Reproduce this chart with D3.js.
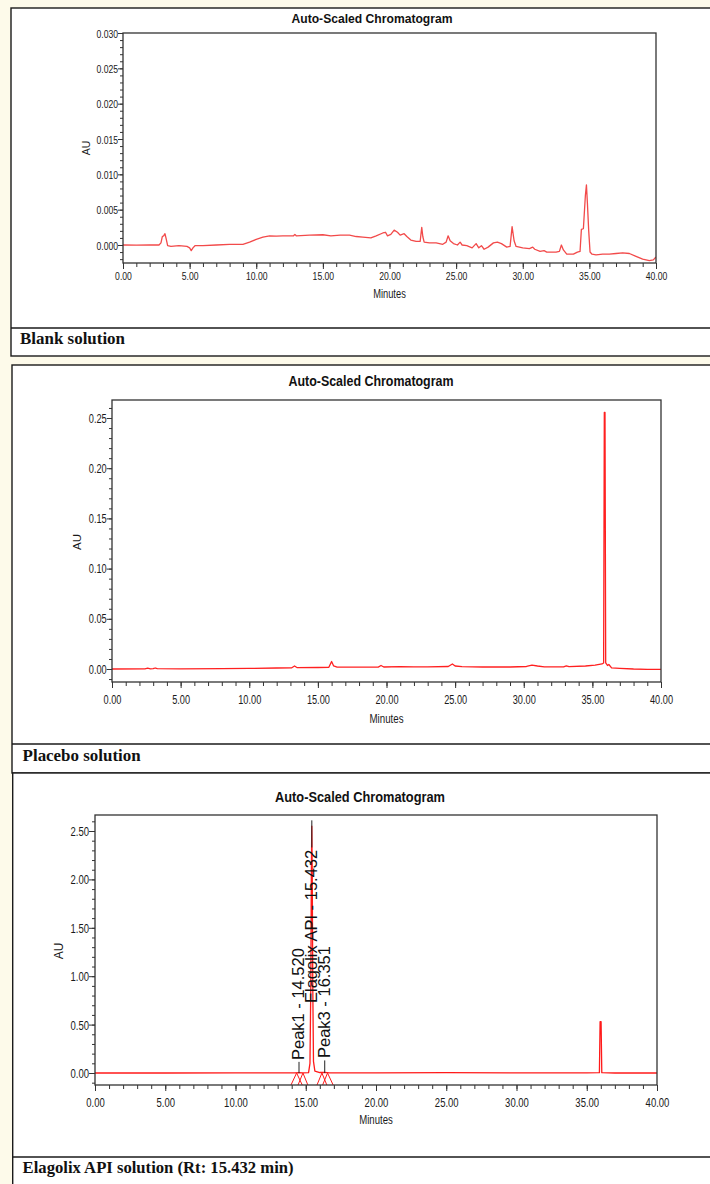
<!DOCTYPE html>
<html><head><meta charset="utf-8">
<script src="https://cdn.jsdelivr.net/npm/d3@7"></script>
<style>html,body{margin:0;padding:0;background:#fdfaea;} svg{display:block}</style>
</head><body>
<svg id="chart" width="710" height="1184"></svg>
<script>
// ---------------- data ----------------
const chartTitle = "Auto-Scaled Chromatogram";
const xAxisTitle = "Minutes";
const yAxisTitle = "AU";
const captions = ["Blank solution", "Placebo solution", "Elagolix API solution (Rt: 15.432 min)"];

const xTickValues = [0, 5, 10, 15, 20, 25, 30, 35, 40];
const xTickLabels = ["0.00", "5.00", "10.00", "15.00", "20.00", "25.00", "30.00", "35.00", "40.00"];

const blankYTickValues = [0, 0.005, 0.010, 0.015, 0.020, 0.025, 0.030];
const blankYTickLabels = ["0.000", "0.005", "0.010", "0.015", "0.020", "0.025", "0.030"];
const placeboYTickValues = [0, 0.05, 0.10, 0.15, 0.20, 0.25];
const placeboYTickLabels = ["0.00", "0.05", "0.10", "0.15", "0.20", "0.25"];
const apiYTickValues = [0, 0.5, 1.0, 1.5, 2.0, 2.5];
const apiYTickLabels = ["0.00", "0.50", "1.00", "1.50", "2.00", "2.50"];

// [minutes, AU]
const blankTrace = [[0,0],[1,-0.00003],[2,0],[2.7,0],[2.85,0.0003],[2.95,0.0012],[3.05,0.0013],[3.15,0.0016],[3.25,0.0008],[3.35,-0.0001],[3.6,-0.0002],[4.2,-0.0001],[4.8,-0.0002],[5.0,-0.0004],[5.12,-0.0008],[5.25,-0.0004],[5.4,-0.0001],[6,-0.0001],[7,0],[8,0.0001],[9,0.0001],[9.5,0.0004],[10,0.0008],[10.5,0.0011],[11,0.0013],[11.5,0.00125],[12,0.0013],[12.8,0.0013],[12.9,0.0015],[13,0.0013],[14,0.0014],[15,0.00145],[15.6,0.0013],[16.3,0.0014],[17,0.0014],[17.5,0.0012],[18,0.0011],[18.6,0.0010],[19,0.0013],[19.5,0.0017],[19.7,0.0018],[19.85,0.0013],[20.1,0.0015],[20.35,0.0021],[20.6,0.0018],[20.8,0.0014],[21.1,0.0016],[21.3,0.0012],[21.6,0.0007],[22,0.0005],[22.3,0.0005],[22.42,0.0025],[22.5,0.0012],[22.6,0.0004],[23,0.0003],[23.5,0.0003],[24,0.0001],[24.25,0.0004],[24.4,0.0013],[24.55,0.0006],[24.8,0.0002],[25.1,0],[25.3,0.0004],[25.45,0],[25.8,-0.0001],[26.2,-0.0004],[26.5,0.0002],[26.7,-0.0004],[26.9,-0.0001],[27.1,-0.0006],[27.4,-0.0003],[27.8,0.0003],[28.1,0.0004],[28.4,0.0002],[28.8,-0.0003],[29.05,-0.0002],[29.2,0.0026],[29.35,0.0006],[29.5,-0.0002],[30,-0.0004],[30.5,-0.0005],[30.75,-0.0003],[30.9,-0.0006],[31.3,-0.0009],[31.6,-0.0008],[31.8,-0.0010],[32.5,-0.0010],[32.75,-0.0009],[32.9,0],[33.05,-0.0007],[33.3,-0.0013],[33.8,-0.0013],[34.1,-0.0010],[34.3,-0.0009],[34.4,0.0022],[34.55,0.0023],[34.7,0.0070],[34.78,0.0085],[34.85,0.0060],[34.95,0.0020],[35.05,-0.0010],[35.2,-0.0013],[35.5,-0.0014],[36,-0.0013],[36.5,-0.0013],[37,-0.0012],[37.5,-0.0011],[38,-0.0012],[38.5,-0.0016],[39,-0.0020],[39.5,-0.0022],[39.8,-0.0021],[40,-0.0017]];

const placeboTrace = [[0,0],[2.4,0.0002],[2.6,0.0008],[2.8,0.0002],[3.0,0.0003],[3.15,0.0010],[3.3,0.0003],[5,0.0002],[8,0.0003],[10,0.0006],[12,0.0010],[13.1,0.0012],[13.3,0.0030],[13.5,0.0013],[15,0.0015],[15.8,0.0017],[16.0,0.0075],[16.15,0.0030],[16.4,0.0018],[18,0.0018],[19.4,0.0019],[19.6,0.0035],[19.8,0.0020],[21,0.0023],[22,0.0022],[23,0.0022],[24.5,0.0025],[24.8,0.0050],[25.0,0.0030],[25.5,0.0024],[27,0.0020],[29,0.0020],[30.2,0.0025],[30.6,0.0038],[31.0,0.0030],[31.5,0.0022],[32.9,0.0022],[33.1,0.0032],[33.3,0.0024],[34.5,0.0030],[35.2,0.0038],[35.7,0.0050],[35.82,0.0060],[35.87,0.2555],[35.92,0.2555],[35.97,0.0060],[36.1,0.0035],[36.2,0.0045],[36.4,0.0012],[37,0.0007],[38,0],[39,-0.0003],[40,-0.0003]];

const apiTrace = [[0,0],[5,0],[10,0.0003],[13.5,0.0005],[14.2,0.0008],[14.52,0.004],[14.8,0.002],[15.2,0.004],[15.3,0.10],[15.36,0.9],[15.40,2.1],[15.43,2.55],[15.46,2.1],[15.50,0.9],[15.55,0.12],[15.65,0.02],[16.0,0.005],[16.35,0.006],[16.7,0.002],[20,0.001],[25,0.003],[30,0.0015],[35,0.002],[35.9,0.003],[35.95,0.53],[36.02,0.53],[36.07,0.003],[37,0],[40,0]];

const apiPeakNames = ["Peak1", "Elagolix API", "Peak3"];
const apiPeakTimes = [14.520, 15.432, 16.351];
// integration markers [start, apex, end] in minutes
const apiIntegrationMarks = [[13.95,14.35,14.75],[14.45,14.8,15.15],[15.8,16.15,16.5],[16.2,16.55,16.95]];

// ---------------- layout ----------------
const svg = d3.select("#chart");
svg.append("rect").attr("width",710).attr("height",1184).attr("fill","#fdfaea");

const SANS = "'Liberation Sans',Arial,sans-serif";
// condensed look: width of a numeric label in an Arial-Narrow-like face
const narrowWidth = (s, f) => f * [...s].reduce((a, c) => a + (c === "." ? 0.228 : 0.456), 0);

const panels = [
  {trace: blankTrace, yt: blankYTickValues, yl: blankYTickLabels, yMinor: d3.range(-2, 31).map(d => d/1000),
   box:{x:11, y:8, b:356}, sep:328, cap:{x:20, y:344, len:105},
   plot:{l:123, t:33, r:656, b:263}, yRange:[245, 33],
   title:{x:372, y:18, size:13.5, len:161}, tickFont:11.5, tickW:10.5, xLabY:276, yLabGap:5,
   au:{x:86, y:148, size:10.5}, min:{y:293.5, size:12, len:32.6}, color:"#f24a4a", width:1.3},
  {trace: placeboTrace, yt: placeboYTickValues, yl: placeboYTickLabels, yMinor: d3.range(-1, 27).map(d => d/100),
   box:{x:12, y:365, b:773}, sep:744, cap:{x:22.6, y:760.5, len:118},
   plot:{l:112, t:400, r:661, b:682}, yRange:[669, 418],
   title:{x:371, y:381, size:14, len:165}, tickFont:12.3, tickW:11.2, xLabY:700, yLabGap:5.3,
   au:{x:77, y:542, size:11.5}, min:{y:719, size:12.5, len:34}, color:"#ff2020", width:1.3},
  {trace: apiTrace, yt: apiYTickValues, yl: apiYTickLabels, yMinor: d3.range(-1, 27).map(d => d/10),
   box:{x:12.7, y:773, b:1195}, sep:1157, cap:{x:22.6, y:1172.5, len:271},
   plot:{l:95, t:815, r:657, b:1085}, yRange:[1073, 831],
   title:{x:360, y:797, size:14.5, len:170}, tickFont:12.8, tickW:11.6, xLabY:1102, yLabGap:6,
   au:{x:59, y:951, size:12}, min:{y:1120, size:12.5, len:33.5}, color:"#ff1a1a", width:1.3}
];

panels.forEach((p, i) => {
  const g = svg.append("g");
  // panel box
  g.append("rect").attr("x", p.box.x).attr("y", p.box.y)
    .attr("width", 720 - p.box.x).attr("height", p.box.b - p.box.y)
    .attr("fill", "#fff").attr("stroke", "#1a1a1a").attr("stroke-width", 1.4);
  g.append("line").attr("x1", p.box.x).attr("x2", 710).attr("y1", p.sep).attr("y2", p.sep)
    .attr("stroke", "#1a1a1a").attr("stroke-width", 1.4);
  g.append("text").attr("x", p.cap.x).attr("y", p.cap.y)
    .attr("font-family", "'Liberation Serif','Times New Roman',serif").attr("font-weight", "bold")
    .attr("font-size", 16).attr("fill", "#111")
    .attr("textLength", p.cap.len).attr("lengthAdjust", "spacingAndGlyphs")
    .text(captions[i]);

  // title
  g.append("text").attr("x", p.title.x).attr("y", p.title.y)
    .attr("text-anchor", "middle").attr("dominant-baseline", "central")
    .attr("font-family", SANS).attr("font-weight", "bold").attr("font-size", p.title.size)
    .attr("fill", "#111").attr("textLength", p.title.len).attr("lengthAdjust", "spacingAndGlyphs")
    .text(chartTitle);

  const x = d3.scaleLinear().domain([0, 40]).range([p.plot.l, p.plot.r]);
  const y = d3.scaleLinear().domain([0, p.yt[p.yt.length - 1]]).range(p.yRange);

  // x axis minor ticks
  const xMinor = d3.range(0, 41);
  g.append("g").attr("transform", `translate(0,${p.plot.b})`)
    .call(d3.axisBottom(x).tickValues(xMinor).tickSize(4).tickFormat(""))
    .call(a => a.select(".domain").remove())
    .selectAll("line").attr("stroke", "#333");
  // x axis major
  const xa = g.append("g").attr("transform", `translate(0,${p.plot.b})`)
    .call(d3.axisBottom(x).tickValues(xTickValues).tickSize(6)
      .tickFormat((d, k) => xTickLabels[k]));
  xa.select(".domain").remove();
  xa.selectAll("line").attr("stroke", "#333");
  xa.selectAll("text").attr("y", null).attr("dy", null)
    .attr("transform", `translate(0,${p.xLabY - p.plot.b})`)
    .attr("dominant-baseline", "central")
    .attr("font-family", SANS).attr("font-size", p.tickFont).attr("fill", "#1a1a1a")
    .attr("textLength", (d, k) => narrowWidth(xTickLabels[k], p.tickW))
    .attr("lengthAdjust", "spacingAndGlyphs");

  // y axis minor ticks
  g.append("g").attr("transform", `translate(${p.plot.l},0)`)
    .call(d3.axisLeft(y).tickValues(p.yMinor.filter(v => y(v) >= p.plot.t - 0.5 && y(v) <= p.plot.b + 0.5)).tickSize(3).tickFormat(""))
    .call(a => a.select(".domain").remove())
    .selectAll("line").attr("stroke", "#333");
  const ya = g.append("g").attr("transform", `translate(${p.plot.l},0)`)
    .call(d3.axisLeft(y).tickValues(p.yt).tickSize(p.yLabGap).tickPadding(0)
      .tickFormat((d, k) => p.yl[k]));
  ya.select(".domain").remove();
  ya.selectAll("line").attr("stroke", "#333");
  ya.selectAll("text").attr("dy", null).attr("dominant-baseline", "central")
    .attr("font-family", SANS).attr("font-size", p.tickFont).attr("fill", "#1a1a1a")
    .attr("textLength", (d, k) => narrowWidth(p.yl[k], p.tickW))
    .attr("lengthAdjust", "spacingAndGlyphs");

  // axis titles
  g.append("text").attr("x", (p.plot.l + p.plot.r) / 2).attr("y", p.min.y)
    .attr("text-anchor", "middle").attr("dominant-baseline", "central")
    .attr("font-family", SANS).attr("font-size", p.min.size).attr("fill", "#1a1a1a")
    .attr("textLength", p.min.len).attr("lengthAdjust", "spacingAndGlyphs")
    .text(xAxisTitle);
  g.append("text").attr("transform", `translate(${p.au.x},${p.au.y}) rotate(-90)`)
    .attr("text-anchor", "middle").attr("dominant-baseline", "central")
    .attr("font-family", SANS).attr("font-size", p.au.size)
    .attr("fill", "#1a1a1a").text(yAxisTitle);

  // clip
  const cid = "clip" + i;
  svg.append("clipPath").attr("id", cid).append("rect")
    .attr("x", p.plot.l).attr("y", p.plot.t)
    .attr("width", p.plot.r - p.plot.l).attr("height", p.plot.b - p.plot.t);
  const pg = g.append("g").attr("clip-path", `url(#${cid})`);

  if (i === 2) {
    // integration markers
    apiIntegrationMarks.forEach(m => {
      pg.append("path")
        .attr("d", d3.line()([[x(m[0]), p.plot.b], [x(m[1]), y(0)], [x(m[2]), p.plot.b]]))
        .attr("fill", "none").attr("stroke", p.color).attr("stroke-width", 1);
    });
  }

  pg.append("path").datum(p.trace)
    .attr("d", d3.line().x(d => x(d[0])).y(d => y(d[1])))
    .attr("fill", "none").attr("stroke", p.color).attr("stroke-width", p.width)
    .attr("stroke-linejoin", "round");

  if (i === 2) {
    const labelStart = [0.134, 0.723, 0.155];
    const tickSpan = [[0, 0.115], [2.33, 2.61], [0, 0.13]];
    apiPeakTimes.forEach((t, k) => {
      pg.append("line").attr("x1", x(t)).attr("x2", x(t))
        .attr("y1", y(tickSpan[k][0])).attr("y2", y(tickSpan[k][1]))
        .attr("stroke", "#222").attr("stroke-width", 1);
      pg.append("text")
        .attr("transform", `translate(${x(t) - 1},${y(labelStart[k])}) rotate(-90)`)
        .attr("dominant-baseline", "central")
        .attr("font-family", SANS).attr("font-size", 16.5)
        .attr("fill", "#111")
        .text(`${apiPeakNames[k]} - ${t.toFixed(3)}`);
    });
  }

  // plot frame
  g.append("rect").attr("x", p.plot.l).attr("y", p.plot.t)
    .attr("width", p.plot.r - p.plot.l).attr("height", p.plot.b - p.plot.t)
    .attr("fill", "none").attr("stroke", "#333").attr("stroke-width", 1.3);
});
</script>
</body></html>
